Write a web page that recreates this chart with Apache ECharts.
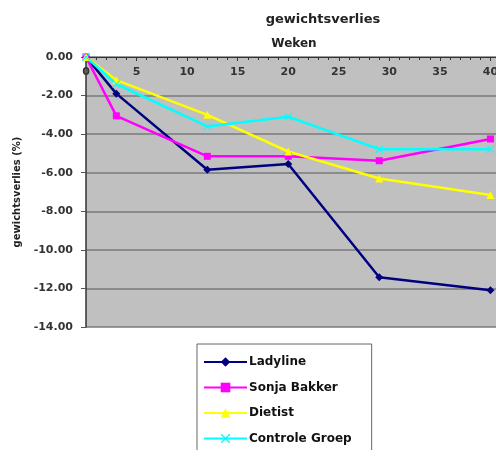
<!DOCTYPE html>
<html><head><meta charset="utf-8">
<script src="https://cdn.jsdelivr.net/npm/echarts@6/dist/echarts.min.js"></script>
<style>html,body{margin:0;padding:0;background:#fff}#c{width:496px;height:450px}</style>
</head><body><div id="c"></div>
<script>
var weeks = [0, 3, 12, 20, 29, 40];
var ladyline = [0, -1.9, -5.85, -5.55, -11.42, -12.1];
var sonjaBakker = [0, -3.05, -5.15, -5.15, -5.38, -4.25];
var dietist = [0, -1.2, -3.0, -4.9, -6.3, -7.15];
var controleGroep = [0, -1.4, -3.6, -3.1, -4.78, -4.78];
var seriesNames = ['Ladyline', 'Sonja Bakker', 'Dietist', 'Controle Groep'];

function pairs(xs, ys){ return xs.map(function(x,i){return [x, ys[i]];}); }
var crossPath = 'path://M1,0 L5,4 L9,0 L10,1 L6,5 L10,9 L9,10 L5,6 L1,10 L0,9 L4,5 L0,1 Z';

var chart = echarts.init(document.getElementById('c'), null, {renderer:'canvas'});
var font = '"DejaVu Sans", Verdana, sans-serif';
function mk(name, data, color, symbol, size){
  return {name:name, type:'line', data:data, symbol:symbol, symbolSize:size,
    lineStyle:{color:color, width:2.5}, itemStyle:{color:color}, z:3, animation:false};
}
chart.setOption({
  animation:false,
  title:[
    {text:'gewichtsverlies', left:318, top:8, textAlign:'center',
      textStyle:{fontFamily:font, fontSize:13, fontWeight:'bold', color:'#222'}},
    {text:'Weken', left:289, top:33, textAlign:'center',
      textStyle:{fontFamily:font, fontSize:12, fontWeight:'bold', color:'#222'}}
  ],
  grid:{left:86, top:57, height:270, width:455, show:true, backgroundColor:'#c0c0c0', borderWidth:0,
    containLabel:false, outerBoundsMode:'none'},
  xAxis:{type:'value', position:'top', min:0, max:45, interval:5,
    axisLine:{show:true, onZero:false, lineStyle:{color:'#333', width:1}},
    axisTick:{show:true, inside:true, length:4, lineStyle:{color:'#333'}},
    minorTick:{show:true, splitNumber:5, length:3, lineStyle:{color:'#333'}},
    axisLabel:{inside:true, margin:10, fontFamily:font, fontSize:11, fontWeight:'bold', color:'#333'},
    splitLine:{show:false}},
  yAxis:{type:'value', min:-14, max:0, interval:2,
    name:'gewichtsverlies (%)', nameLocation:'middle', nameGap:60, nameRotate:90,
    nameTextStyle:{fontFamily:font, fontSize:10, fontWeight:'bold', color:'#222'},
    axisLine:{show:true, lineStyle:{color:'#333', width:1.5}},
    axisTick:{show:true, length:5, lineStyle:{color:'#555'}},
    axisLabel:{margin:13, fontFamily:font, fontSize:11, fontWeight:'bold', color:'#333',
      formatter:function(v){return v.toFixed(2);}},
    splitLine:{show:true, lineStyle:{color:'#7a7a7a', width:1.5}}},
  legend:{orient:'vertical', left:197, top:344, height:200,
    backgroundColor:'#fff', borderColor:'#666', borderWidth:1,
    padding:[12, 20, 10, 6], itemWidth:43, itemHeight:12, itemGap:13.5,
    textStyle:{fontFamily:font, fontSize:12, fontWeight:'bold', color:'#111', padding:[0,0,0,-3]},
    data:seriesNames},
  series:[
    mk(seriesNames[0], pairs(weeks, ladyline), '#000080', 'diamond', 8),
    mk(seriesNames[1], pairs(weeks, sonjaBakker), '#ff00ff', 'rect', 7),
    mk(seriesNames[2], pairs(weeks, dietist), '#ffff00', 'triangle', 8),
    mk(seriesNames[3], pairs(weeks, controleGroep), '#00ffff', crossPath, 8)
  ]
});
</script></body></html>
